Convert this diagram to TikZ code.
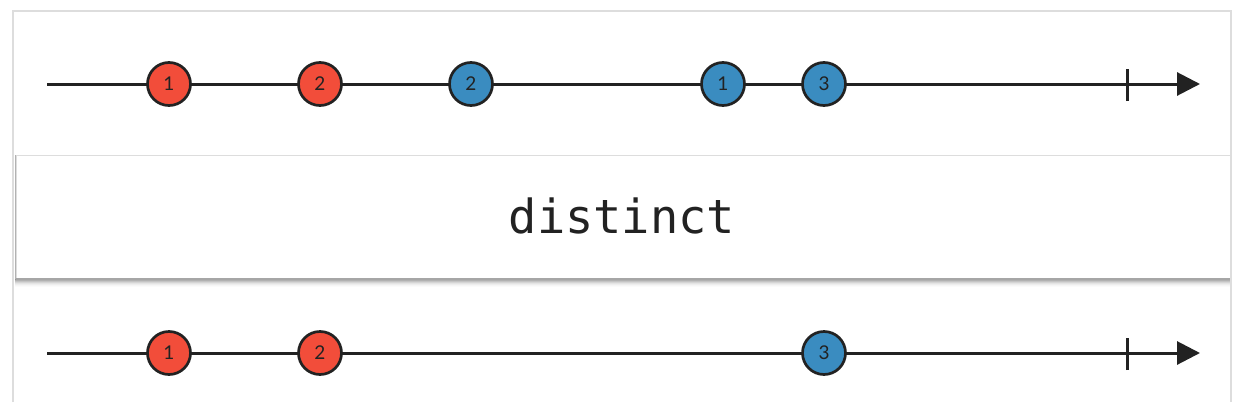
\documentclass[tikz,border=0pt]{standalone}
\usepackage{fontspec}
\setmainfont{Lato}
\newfontfamily\codefont{DejaVu Sans Mono}
\usetikzlibrary{arrows.meta}
\definecolor{mred}{HTML}{F24D3A}
\definecolor{mblue}{HTML}{3A8CC0}
\definecolor{ink}{HTML}{222222}
\definecolor{frame}{HTML}{DDDDDD}
\tikzset{
  marble/.style={circle, draw=ink, line width=2.7pt, minimum size=43pt, inner sep=0pt, font=\fontsize{19}{19}\selectfont, text=ink},
  redm/.style={marble, fill=mred},
  bluem/.style={marble, fill=mblue},
  timeline/.style={ink, line width=3pt, -{Triangle[length=23pt,width=23pt]}},
  tick/.style={ink, line width=3pt},
}
\begin{document}
\begin{tikzpicture}[x=1pt,y=-1pt]
\useasboundingbox (0,0) rectangle (1242,402);
\fill[white] (0,0) rectangle (1242,402);
% outer frame
\draw[frame, line width=1.5pt] (13,402) -- (13,11) -- (1231,11) -- (1231,402);
% operator box with shadow
\foreach \i/\o in {1/0.14,2/0.10,3/0.08,4/0.06,5/0.04,6/0.03,7/0.02,8/0.015}{
  \fill[black, opacity=\o] (15,156) rectangle (1230,279+\i);
}
\node[draw=frame, line width=1pt, fill=white, minimum width=1214pt, minimum height=124pt, inner sep=0pt, anchor=north west] (op) at (15.5,155) {};
\draw[black!30, line width=1.5pt] (15.5,155) -- (15.5,279);
\draw[black!35, line width=1.2pt] (15.5,279) -- (1229.5,279);
\node[font=\codefont\fontsize{47}{47}\selectfont, text=ink] (lbl) at (622,216) {distinct};
% top timeline
\coordinate (t0) at (47,84);
\coordinate (t1) at (1200,84);
\draw[timeline] (t0) -- (t1);
\coordinate (tt) at (1127,84);
\draw[tick] ([yshift=-17pt]tt) -- ([yshift=15pt]tt);
\node[redm] (a1) at (169,84) {1};
\node[redm] (a2) at (320,84) {2};
\node[bluem] (a3) at (471,84) {2};
\node[bluem] (a4) at (723,84) {1};
\node[bluem] (a5) at (824,84) {3};
% bottom timeline
\coordinate (b0) at (47,353);
\coordinate (b1) at (1200,353);
\draw[timeline] (b0) -- (b1);
\coordinate (bt) at (1127,353);
\draw[tick] ([yshift=-17pt]bt) -- ([yshift=15pt]bt);
\node[redm] (c1) at (169,353) {1};
\node[redm] (c2) at (320,353) {2};
\node[bluem] (c3) at (824,353) {3};
\end{tikzpicture}
\end{document}
